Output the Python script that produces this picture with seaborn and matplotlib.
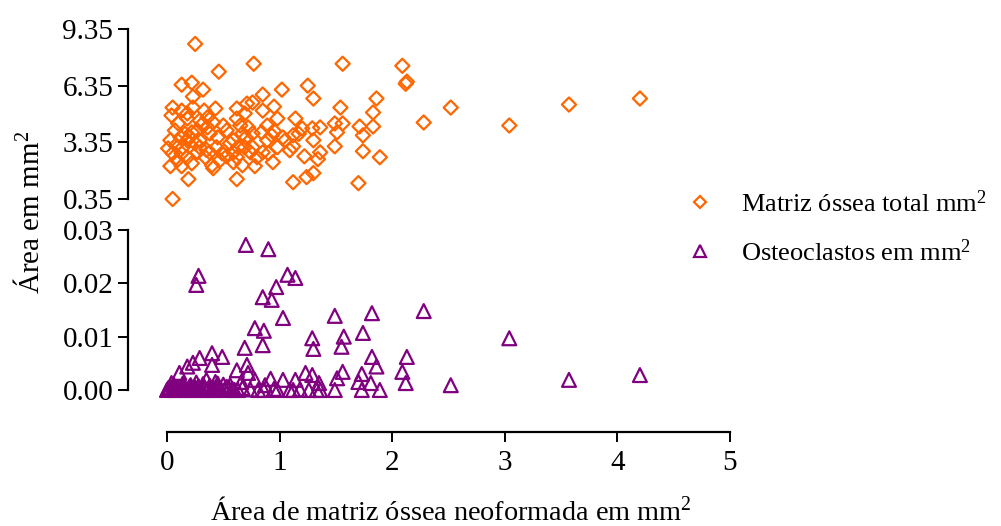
import matplotlib
matplotlib.use("Agg")
import matplotlib.pyplot as plt
from matplotlib.lines import Line2D
import seaborn as sns
import pandas as pd

sns.set_theme(style="white")
plt.rcParams['font.family'] = ['Liberation Serif', 'DejaVu Serif']
plt.rcParams['mathtext.fontset'] = 'custom'
plt.rcParams['mathtext.rm'] = 'Liberation Serif'
plt.rcParams['mathtext.it'] = 'Liberation Serif:italic'
plt.rcParams['text.color'] = 'black'
plt.rcParams['axes.labelcolor'] = 'black'

# ---- data: Matriz óssea total (mm²) vs área neoformada ----
matriz_x = [0.25, 0.77, 1.56, 2.09, 2.13, 2.12, 0.46, 0.13, 0.22, 0.32, 0.23, 1.25, 1.30, 1.02,
            0.85, 1.86, 2.52, 2.28, 1.54, 1.83, 1.56, 1.49, 1.71, 1.83, 1.74, 1.51, 1.49, 1.74,
            1.89, 1.70, 1.36, 1.29, 1.30, 1.36, 1.34, 1.22, 1.30, 1.24, 1.12, 1.14, 1.20, 1.12,
            1.12, 1.09, 1.03, 0.95, 0.85, 0.98, 0.89, 0.93, 0.98, 0.94, 0.76, 0.71, 0.62, 0.69,
            0.62, 0.72, 0.67, 0.76, 0.84, 0.76, 0.69, 0.85, 0.80, 0.62, 0.67, 0.78, 0.62, 0.59,
            0.53, 0.49, 0.50, 0.43, 0.41, 0.45, 0.38, 0.36, 0.33, 0.23, 0.18, 0.13, 0.05, 0.04,
            0.07, 0.03, 0.01, 0.05, 0.03, 0.13, 0.19, 0.05, 0.14, 0.18, 0.22, 0.20, 0.27, 0.29,
            0.34, 0.41, 0.40, 0.47, 0.38, 0.29, 0.22, 0.12, 0.10, 0.18, 0.29, 0.36, 0.44, 0.53,
            0.59, 0.65, 0.63, 0.59, 0.89, 0.90, 0.74, 1.05, 0.27, 0.18, 0.13, 0.09, 3.04, 3.57,
            4.20, 0.31, 0.25, 0.16, 0.08, 0.35, 0.56, 0.70, 0.95, 1.17]
matriz_y = [8.56, 7.51, 7.51, 7.40, 6.56, 6.45, 7.09, 6.40, 6.51, 6.14, 5.77, 6.35, 5.67, 6.14,
            5.88, 5.67, 5.19, 4.40, 5.19, 4.93, 4.35, 4.35, 4.19, 4.19, 3.72, 3.88, 3.14, 2.88,
            2.56, 1.19, 4.14, 4.09, 3.46, 2.82, 2.46, 2.61, 1.72, 1.51, 1.24, 4.61, 4.09, 3.72,
            3.14, 2.93, 3.61, 5.24, 5.03, 4.61, 4.24, 3.72, 3.09, 2.30, 5.46, 5.40, 5.14, 4.88,
            4.61, 4.14, 3.82, 3.82, 3.88, 3.09, 3.09, 2.82, 2.56, 2.56, 2.14, 2.09, 1.40, 2.30,
            2.61, 2.77, 4.24, 5.14, 4.40, 3.61, 3.82, 4.67, 5.03, 5.19, 4.61, 5.03, 5.19, 4.77,
            3.98, 3.46, 3.03, 2.77, 2.09, 2.09, 1.40, 0.35, 3.09, 2.56, 2.24, 3.61, 3.98, 3.09,
            2.56, 1.98, 2.14, 2.40, 2.82, 3.46, 3.88, 3.61, 4.35, 4.88, 4.51, 4.14, 3.09, 3.98,
            3.46, 4.24, 3.09, 2.82, 3.46, 2.77, 2.82, 3.46, 2.82, 3.46, 2.77, 2.40, 4.24, 5.35,
            5.67, 4.30, 3.30, 3.80, 3.20, 2.95, 3.30, 3.60, 3.95, 3.80]

# ---- data: Osteoclastos (mm²) vs área neoformada ----
osteo_x = [0.70, 0.90, 0.28, 0.26, 1.07, 1.14, 0.97, 0.85, 0.93, 1.03, 1.49, 1.82, 2.28, 0.78,
           0.86, 0.85, 0.69, 1.74, 1.29, 1.30, 1.57, 1.55, 1.82, 1.86, 2.13, 2.09, 2.12, 1.89,
           1.81, 1.73, 1.70, 1.73, 1.56, 1.51, 1.49, 1.36, 1.35, 1.29, 1.23, 1.26, 1.14, 1.12,
           1.03, 0.98, 0.92, 0.87, 0.86, 0.78, 0.71, 0.72, 0.62, 0.66, 0.60, 0.53, 0.49, 0.40,
           0.40, 0.29, 0.23, 0.18, 0.11, 0.35, 0.43, 0.04, 3.04, 3.57, 4.20, 2.52,
           0.00, 0.01, 0.02, 0.03, 0.05, 0.06, 0.07, 0.08, 0.09, 0.10, 0.12, 0.13, 0.14, 0.15,
           0.16, 0.17, 0.19, 0.20, 0.21, 0.22, 0.24, 0.25, 0.27, 0.28, 0.30, 0.31, 0.33, 0.34,
           0.36, 0.37, 0.39, 0.41, 0.42, 0.44, 0.46, 0.48, 0.51, 0.55, 0.58, 0.63, 0.67, 0.74,
           0.81, 0.95, 1.09, 1.18, 1.33, 0.06, 0.14, 0.21, 0.26, 0.32, 0.38, 0.45, 0.50, 0.56]
osteo_y = [0.0272, 0.0264, 0.0214, 0.0197, 0.0216, 0.0210, 0.0193, 0.0174, 0.0169, 0.0135,
           0.0139, 0.0144, 0.0148, 0.0116, 0.0111, 0.0084, 0.0079, 0.0107, 0.0097, 0.0077,
           0.0100, 0.0081, 0.0062, 0.0044, 0.0062, 0.0034, 0.0013, 0.0000, 0.0013, 0.0030,
           0.0015, 0.0000, 0.0034, 0.0022, 0.0000, 0.0000, 0.0013, 0.0028, 0.0032, 0.0000,
           0.0019, 0.0000, 0.0019, 0.0000, 0.0021, 0.0009, 0.0000, 0.0019, 0.0047, 0.0032,
           0.0037, 0.0015, 0.0000, 0.0006, 0.0062, 0.0069, 0.0047, 0.0060, 0.0051, 0.0044,
           0.0032, 0.0019, 0.0015, 0.0013, 0.0097, 0.0019, 0.0028, 0.0009,
           0.0000, 0.0003, 0.0001, 0.0005, 0.0002, 0.0000, 0.0004, 0.0001, 0.0006, 0.0002,
           0.0000, 0.0003, 0.0008, 0.0001, 0.0004, 0.0000, 0.0002, 0.0006, 0.0001, 0.0003,
           0.0000, 0.0005, 0.0002, 0.0007, 0.0001, 0.0000, 0.0004, 0.0002, 0.0000, 0.0003,
           0.0001, 0.0005, 0.0000, 0.0002, 0.0004, 0.0001, 0.0000, 0.0003, 0.0002, 0.0000,
           0.0004, 0.0001, 0.0000, 0.0002, 0.0000, 0.0001, 0.0000, 0.0010, 0.0012, 0.0009,
           0.0014, 0.0011, 0.0008, 0.0012, 0.0010, 0.0009]

top_ticks = [0.35, 3.35, 6.35, 9.35]
bottom_ticks = [0.00, 0.01, 0.02, 0.03]
x_ticks = [0, 1, 2, 3, 4, 5]

ORANGE = "#FF6600"
PURPLE = "#800080"
FS = 21

W, H = 1001, 526
fig = plt.figure(figsize=(W / 100, H / 100), dpi=100)

L, R = 128 / W, 730 / W
ax_top = fig.add_axes([L, 1 - 199 / H, R - L, 170 / H])
ax_bot = fig.add_axes([L, 1 - 390 / H, R - L, 160 / H])

df_m = pd.DataFrame({"x": matriz_x, "y": matriz_y})
df_o = pd.DataFrame({"x": osteo_x, "y": osteo_y})

sns.scatterplot(data=df_m, x="x", y="y", ax=ax_top, marker="D", s=52,
                facecolor="none", edgecolor=ORANGE, linewidth=1.6, clip_on=False, zorder=3)
sns.scatterplot(data=df_o, x="x", y="y", ax=ax_bot, marker="^", s=100,
                facecolor="none", edgecolor=PURPLE, linewidth=1.6, clip_on=False, zorder=3)

xmin = -39 / 112.6
for ax in (ax_top, ax_bot):
    ax.set_xlim(xmin, 5)
    ax.set_facecolor("none")
    ax.spines["top"].set_visible(False)
    ax.spines["right"].set_visible(False)
    ax.spines["left"].set_linewidth(1.6)
    ax.spines["left"].set_color("black")
    ax.tick_params(axis="both", which="major", direction="out", length=7.5, width=1.4,
                   labelsize=FS, colors="black", left=True, bottom=True, pad=3)
    ax.set_xlabel("")
    ax.set_ylabel("")

ax_top.set_ylim(0.35, 9.35)
ax_top.set_yticks(top_ticks)
ax_top.set_yticklabels([f"{t:.2f}" for t in top_ticks], fontsize=FS)
ax_top.spines["bottom"].set_visible(False)
ax_top.tick_params(axis="x", bottom=False, labelbottom=False)

ax_bot.set_ylim(0.0, 0.03)
ax_bot.set_yticks(bottom_ticks)
ax_bot.set_yticklabels([f"{t:.2f}" for t in bottom_ticks], fontsize=FS)
ax_bot.set_xticks(x_ticks)
ax_bot.set_xticklabels([str(t) for t in x_ticks], fontsize=FS)
ax_bot.tick_params(axis="x", pad=6)
ax_bot.spines["bottom"].set_position(("outward", 30))
ax_bot.spines["bottom"].set_bounds(0, 5)
ax_bot.spines["bottom"].set_linewidth(1.6)
ax_bot.spines["bottom"].set_color("black")

fig.text(451 / W, 1 - 512 / H, "Área de matriz óssea neoformada em mm$^{2}$",
         ha="center", va="center", fontsize=20.3, color="black")
fig.text(30 / W, 1 - 212 / H, "Área em mm$^{2}$", rotation=90,
         ha="center", va="center", fontsize=FS, color="black")

handles = [
    Line2D([], [], ls="none", marker="D", markersize=6.5, markerfacecolor="none",
           markeredgecolor=ORANGE, markeredgewidth=1.6, label="Matriz óssea total mm$^{2}$"),
    Line2D([], [], ls="none", marker="^", markersize=8, markerfacecolor="none",
           markeredgecolor=PURPLE, markeredgewidth=1.6, label="Osteoclastos em mm$^{2}$"),
]
leg = fig.legend(handles=handles, loc="upper left", bbox_to_anchor=(687 / W, 1 - 190 / H),
                 frameon=False, fontsize=19, handlelength=1.0, handletextpad=1.05,
                 labelspacing=0.85, borderaxespad=0, borderpad=0)
for t in leg.get_texts():
    t.set_color("black")

fig.savefig("out.png", dpi=100)
